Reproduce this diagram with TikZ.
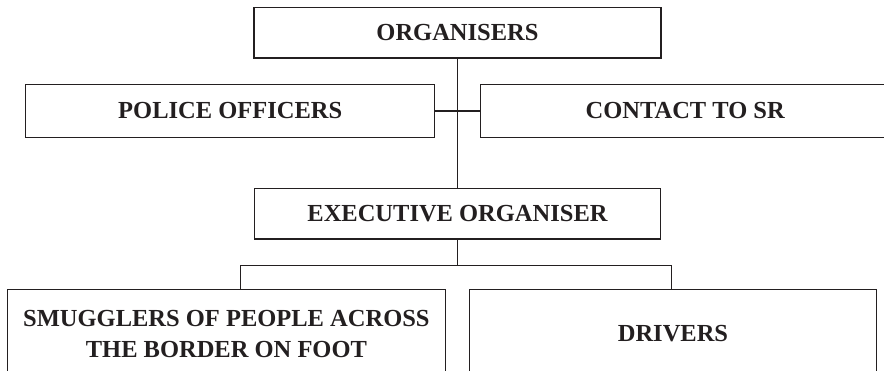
\documentclass[tikz,border=0pt]{standalone}
\usepackage{fontspec}
\setmainfont{Liberation Serif}
\definecolor{ink}{HTML}{231F20}
\begin{document}
\begin{tikzpicture}[x=1pt,y=-1pt,
  box/.style={draw=ink,line width=1.2pt,text=ink,inner sep=0pt,align=center,
    font=\fontsize{24.5}{31}\selectfont\bfseries},
  link/.style={draw=ink,line width=1.2pt}]
\useasboundingbox (0,0) rectangle (884,370);
\clip (0,0) rectangle (884,370);
\node[box,minimum width=407pt,minimum height=50.5pt] (org) at (457.5,32.75) {ORGANISERS};
\node[box,minimum width=409pt,minimum height=53pt] (police) at (230.2,111) {POLICE OFFICERS};
\node[box,minimum width=409pt,minimum height=53pt] (contact) at (685.2,111) {CONTACT TO SR};
\node[box,minimum width=406.4pt,minimum height=50.7pt] (exec) at (457.5,213.7) {EXECUTIVE ORGANISER};
\node[box,minimum width=438pt,minimum height=88.5pt] (smug) at (226.4,333.7) {SMUGGLERS OF PEOPLE ACROSS\\THE BORDER ON FOOT};
\node[box,minimum width=406.6pt,minimum height=88.5pt] (drivers) at (673,333.7) {DRIVERS};
\coordinate (bl) at (240.7,265.7);
\coordinate (br) at (671.3,265.7);
\coordinate (bm) at (457.5,265.7);
\draw[link] (org.south) -- (exec.north);
\draw[link] (police.east) -- (contact.west);
\draw[link] (exec.south) -- (bm);
\draw[link] (bl |- smug.north) -- (bl) -- (br) -- (br |- drivers.north);
\end{tikzpicture}
\end{document}
